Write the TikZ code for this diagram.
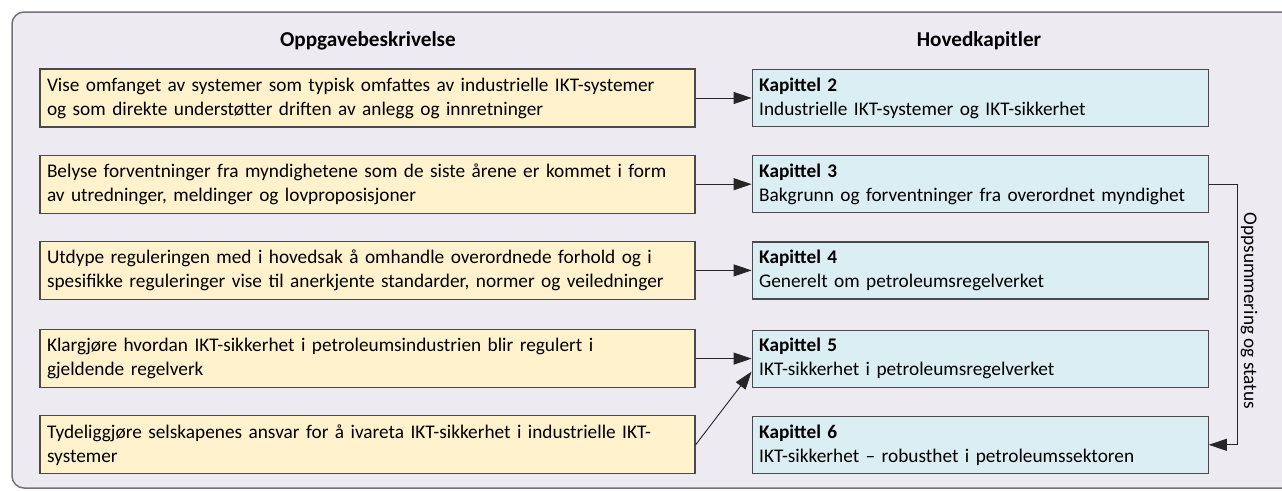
\documentclass[tikz,border=0pt]{standalone}
\usepackage{fontspec}
\setmainfont{Carlito}
\usetikzlibrary{positioning,arrows.meta}
\definecolor{ramme}{HTML}{EDEAF2}
\definecolor{oppgave}{HTML}{FFF2CC}
\definecolor{kapittel}{HTML}{DAEEF3}
\definecolor{kant}{HTML}{4A4A4A}

\begin{document}
\begin{tikzpicture}[
	x=1pt, y=-1pt,
	font=\fontsize{19.3}{24}\selectfont,
	node distance=27pt and 56pt,
	oppg/.style={draw=kant, fill=oppgave, line width=1.2pt, text width=641pt,
		inner xsep=7pt, inner ysep=0pt, minimum height=58pt, align=left},
	kap/.style={draw=kant, fill=kapittel, line width=1.2pt, text width=442pt,
		inner xsep=7pt, inner ysep=0pt, minimum height=57pt, align=left},
	hode/.style={font=\fontsize{21.2}{24}\selectfont\bfseries},
	pil/.style={draw=black!85, line width=0.9pt, -{Triangle[length=18pt,width=12pt]}}
]
\useasboundingbox (0,0) rectangle (1282,490);
\draw[fill=ramme, draw=black!55, line width=1.5pt, rounded corners=12pt] (12,12) rectangle (1300,488);

\node[hode] (oppgaver) at (368,41) {Oppgavebeskrivelse};
\node[hode] (kapitler) at (979,41) {Hovedkapitler};

\node[oppg] (L1) at (367.5,98) {Vise omfanget av systemer som typisk omfattes av industrielle IKT-systemer\\og som direkte understøtter driften av anlegg og innretninger};
\node[oppg, below=of L1] (L2) {Belyse forventninger fra myndighetene som de siste årene er kommet i form\\av utredninger, meldinger og lovproposisjoner};
\node[oppg, below=of L2] (L3) {Utdype reguleringen med i hovedsak å omhandle overordnede forhold og i\\spesifikke reguleringer vise til anerkjente standarder, normer og veiledninger};
\node[oppg, below=29pt of L3] (L4) {Klargjøre hvordan IKT-sikkerhet i petroleumsindustrien blir regulert i\\gjeldende regelverk};
\node[oppg, below=of L4] (L5) {Tydeliggjøre selskapenes ansvar for å ivareta IKT-sikkerhet i industrielle IKT-\\systemer};

\node[kap, right=of L1] (K2) {\textbf{Kapittel 2}\\Industrielle IKT-systemer og IKT-sikkerhet};
\node[kap, right=of L2] (K3) {\textbf{Kapittel 3}\\Bakgrunn og forventninger fra overordnet myndighet};
\node[kap, right=of L3] (K4) {\textbf{Kapittel 4}\\Generelt om petroleumsregelverket};
\node[kap, right=of L4] (K5) {\textbf{Kapittel 5}\\IKT-sikkerhet i petroleumsregelverket};
\node[kap, right=of L5] (K6) {\textbf{Kapittel 6}\\IKT-sikkerhet – robusthet i petroleumssektoren};

% oppgaver til kapitler
\draw[pil] (L1) -- (K2);
\draw[pil] (L2) -- (K3);
\draw[pil] (L3) -- (K4);
\draw[pil] (L4) -- (K5);
\draw[pil] (L5.east) -- ([yshift=-13pt]K5.west);

% oppsummering
\draw[pil] (K3.east) -- ++(29,0) |- (K6.east);
\node[rotate=-90] (status) at (1249,311) {Oppsummering og status};
\end{tikzpicture}
\end{document}
